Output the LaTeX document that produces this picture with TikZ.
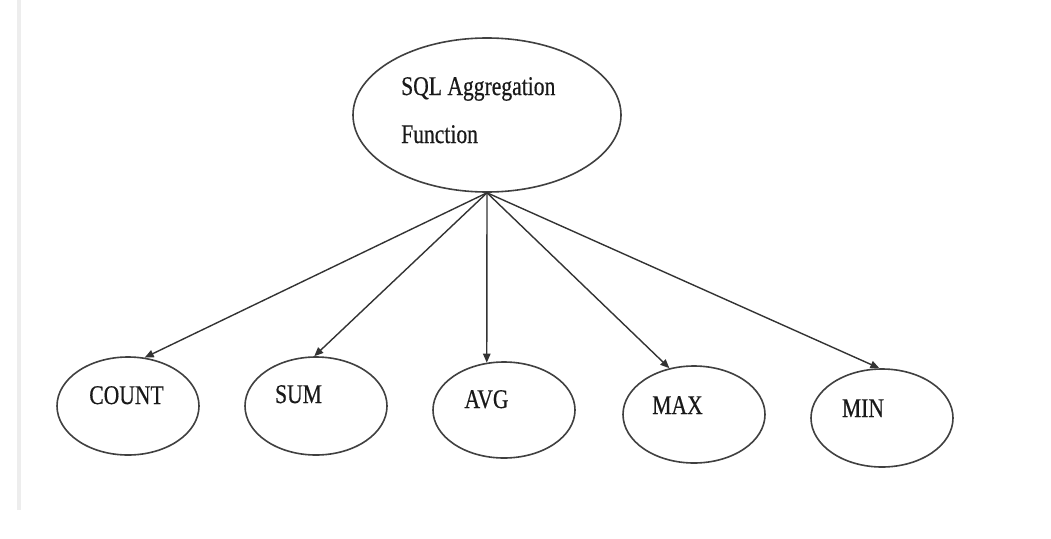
\documentclass[tikz,border=0pt]{standalone}
\usepackage{fontspec}
\setmainfont{Liberation Serif}[FakeStretch=0.8,FakeBold=0.5]
\usetikzlibrary{shapes.geometric,arrows.meta}
\begin{document}
\begin{tikzpicture}[x=1pt,y=-1pt,
  oval/.style={draw=black!75,line width=1.6pt,ellipse,inner sep=0pt,minimum width=142pt,minimum height=98pt},
  lbl/.style={anchor=base,inner sep=0pt,text=black!90,font=\fontsize{27}{27}\selectfont},
  conn/.style={draw=black!80,line width=1.4pt,-{Triangle[length=9pt,width=7.5pt]}}]
\useasboundingbox (0,0) rectangle (1051,538);
\fill[white] (0,0) rectangle (1051,538);
\fill[black!7] (17,0) rectangle (21,510);
% top node
\node[oval,minimum width=268pt,minimum height=154pt] (top) at (487,115) {};
\node[lbl,anchor=base west] (t0a) at (401,95) {SQL Aggregation};
\node[lbl,anchor=base west] (t0b) at (401,143) {Function};
% bottom nodes
\node[oval] (c1) at (128,406) {};
\node[oval] (c2) at (316,406) {};
\node[oval,minimum height=96pt] (c3) at (504,410) {};
\node[oval,minimum height=97pt] (c4) at (694,414.5) {};
\node[oval] (c5) at (882,418) {};
\node[lbl] (t1) at (126.5,404) {COUNT};
\node[lbl] (t2) at (298.5,403) {SUM};
\node[lbl] (t3) at (486.5,408) {AVG};
\node[lbl] (t4) at (677.5,414) {MAX};
\node[lbl] (t5) at (863,417) {MIN};
% connectors
\draw[conn] (top.south) -- (c1.71);
\draw[conn] (top.south) -- (c2.92);
\draw[conn] (top.south) -- (c3.110);
\draw[conn] (top.south) -- (c4.118);
\draw[conn] (top.south) -- (c5.93);
\end{tikzpicture}
\end{document}
